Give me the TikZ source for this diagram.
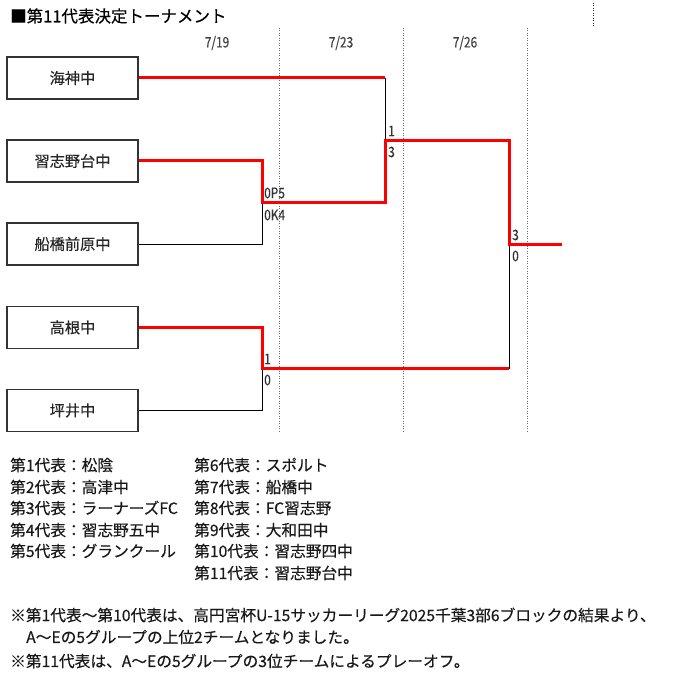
\documentclass[tikz,border=0pt]{standalone}
\usepackage{fontspec}
\setmainfont[FakeBold=0.3]{Noto Sans CJK JP}
\newfontfamily\condfont[FakeStretch=0.82,FakeBold=0.3]{Noto Sans CJK JP}
\begin{document}
\begin{tikzpicture}[x=1pt,y=-1pt,
  team/.style={draw=black!80,line width=1.2pt,minimum width=131pt,minimum height=42pt,inner sep=0pt,
    font=\fontsize{15.2}{15}\selectfont,text=black!85},
  win/.style={draw=red,line width=3pt,line join=miter},
  lose/.style={draw=black,line width=1pt},
  grid/.style={draw=black!60,line width=1pt,dash pattern=on 1pt off 1.5pt},
  score/.style={anchor=west,inner sep=0pt,font=\condfont\fontsize{14.5}{14}\selectfont,text=black!80},
  datelbl/.style={inner sep=0pt,font=\condfont\fontsize{14.5}{14}\selectfont,text=black!75},
  lgd/.style={anchor=west,inner sep=0pt,font=\fontsize{15.7}{15}\selectfont,text=black!90},
  ttl/.style={anchor=west,inner sep=0pt,font=\fontsize{16.5}{16}\selectfont,text=black}]
\useasboundingbox[fill=white] (0,0) rectangle (675,674);

% title
\node[ttl] (title) at (10,16) {■第11代表決定トーナメント};

% round separators
\coordinate (g1t) at (279,28);  \coordinate (g1b) at (279,432);
\coordinate (g2t) at (403,28);  \coordinate (g2b) at (403,432);
\coordinate (g3t) at (527,28);  \coordinate (g3b) at (527,432);
\coordinate (g4t) at (593,3);   \coordinate (g4b) at (593,27);
\draw[grid] (g1t) -- (g1b);
\draw[grid] (g2t) -- (g2b);
\draw[grid] (g3t) -- (g3b);
\draw[grid,draw=black!85] (g4t) -- (g4b);

% dates
\node[datelbl] (d1) at (217,43) {7/19};
\node[datelbl] (d2) at (341,43) {7/23};
\node[datelbl] (d3) at (465,43) {7/26};

% teams
\node[team] (b1) at (72.5,78) {海神中};
\node[team] (b2) at (72.5,161) {習志野台中};
\node[team] (b3) at (72.5,244) {船橋前原中};
\node[team] (b4) at (72.5,327.5) {高根中};
\node[team] (b5) at (72.5,410.5) {坪井中};

% junctions
\coordinate (j1) at (262,202);
\coordinate (j2) at (262,368.5);
\coordinate (j3) at (385,140.5);
\coordinate (j4) at (509,244);
\coordinate (fin) at (562,244);
\coordinate (c1) at (b1.east -| j3);
\coordinate (c2) at (j2 -| j4);

% losing lines
\draw[lose] (b3.east) -| (j1);
\draw[lose] (b5.east) -| (j2);
\draw[lose] (c1) -- (j3);
\draw[lose] (c2) -- (j4);

% winning lines
\draw[win] (b1.east) -- (c1);
\draw[win] (b2.east) -| (j1) -| (j3) -| (j4) -- (fin);
\draw[win] (b4.east) -| (j2) -- (c2);

% scores
\node[score] (s1a) at (264,193) {0P5};
\node[score] (s1b) at (264,215) {0K4};
\node[score] (s2a) at (264,359) {1};
\node[score] (s2b) at (264,380) {0};
\node[score] (s3a) at (388,131) {1};
\node[score] (s3b) at (388,152) {3};
\node[score] (s4a) at (512,235) {3};
\node[score] (s4b) at (512,256) {0};

% legend
\node[lgd] (l1) at (10,465) {第1代表：松陰};
\node[lgd] (l2) at (10,487) {第2代表：高津中};
\node[lgd] (l3) at (10,508) {第3代表：ラーナーズFC};
\node[lgd] (l4) at (10,530) {第4代表：習志野五中};
\node[lgd] (l5) at (10,551) {第5代表：グランクール};
\node[lgd] (l6) at (194,465) {第6代表：スポルト};
\node[lgd] (l7) at (194,487) {第7代表：船橋中};
\node[lgd] (l8) at (194,508) {第8代表：FC習志野};
\node[lgd] (l9) at (194,530) {第9代表：大和田中};
\node[lgd] (l10) at (194,551) {第10代表：習志野四中};
\node[lgd] (l11) at (194,573) {第11代表：習志野台中};

% notes
\node[lgd] (n1) at (10,615) {※第1代表～第10代表は、高円宮杯U-15サッカーリーグ2025千葉3部6ブロックの結果より、};
\node[lgd] (n2) at (26,637) {A～Eの5グループの上位2チームとなりました。};
\node[lgd] (n3) at (10,661) {※第11代表は、A～Eの5グループの3位チームによるプレーオフ。};
\end{tikzpicture}
\end{document}
